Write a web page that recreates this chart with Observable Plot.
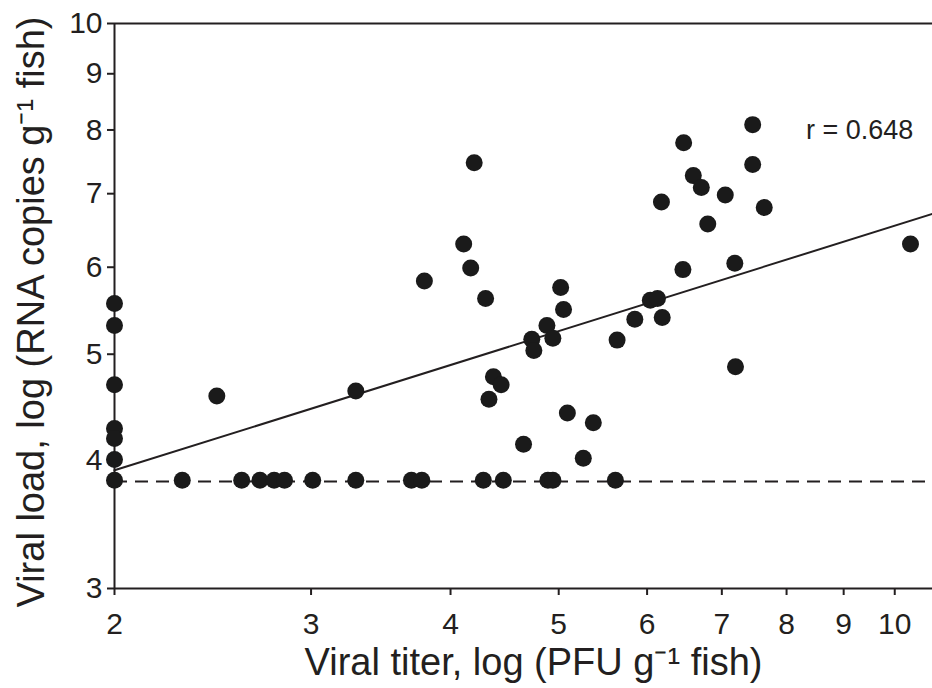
<!DOCTYPE html>
<html>
<head>
<meta charset="utf-8">
<script src="https://cdn.jsdelivr.net/npm/d3@7"></script>
<script src="https://cdn.jsdelivr.net/npm/@observablehq/plot@0.6"></script>
<style>
  html, body { margin: 0; padding: 0; background: #fff; }
</style>
</head>
<body>
<div id="chart"></div>
<script>
// Viral titer (x, PFU g^-1 fish, log) and viral load (y, RNA copies g^-1 fish, log)
const titer = [
  2, 2, 2, 2, 2, 2, 2,
  2.30, 2.60, 2.70, 2.78, 2.84, 3.01, 3.29, 3.69, 3.77, 4.28, 4.46, 4.89, 4.94, 5.62,
  2.47, 3.29, 3.79, 4.11, 4.20, 4.17, 4.30, 5.02, 5.05, 4.88,
  4.73, 4.94, 4.75, 4.37, 4.44, 4.33, 5.09, 5.37, 4.65, 5.26,
  5.64, 5.85, 6.04, 6.13, 6.19, 6.46, 6.18, 6.47, 6.60, 6.71,
  6.80, 7.05, 7.19, 7.20, 7.46, 7.46, 7.64, 10.33
];
const load = [
  5.56, 5.31, 4.69, 4.28, 4.19, 4.01, 3.84,
  3.84, 3.84, 3.84, 3.84, 3.84, 3.84, 3.84, 3.84, 3.84, 3.84, 3.84, 3.84, 3.84, 3.84,
  4.58, 4.63, 5.83, 6.30, 7.47, 5.99, 5.62, 5.75, 5.49, 5.31,
  5.16, 5.17, 5.04, 4.77, 4.69, 4.55, 4.42, 4.33, 4.14, 4.02,
  5.15, 5.38, 5.60, 5.62, 5.40, 5.97, 6.88, 7.79, 7.27, 7.09,
  6.57, 6.98, 6.05, 4.87, 8.09, 7.44, 6.80, 6.30
];
// Fitted regression line (log-log), read at its two ends
const fitTiter = [2, 10.81];
const fitLoad = [3.92, 6.71];
// Detection limit (dashed line)
const detectionLimit = [3.83];
// Axis ticks
const xTicks = [2, 3, 4, 5, 6, 7, 8, 9, 10];
const yTicks = [3, 4, 5, 6, 7, 8, 9, 10];
const xDomain = [2, 10.81];
const yDomain = [3.06, 10];
// Texts
const xTitle = "Viral titer, log (PFU g\u207B\u00B9 fish)";
const yTitle = "Viral load, log (RNA copies g\u207B\u00B9 fish)";
const rLabel = ["r = 0.648"];
const rX = [9.3];
const rY = [8.0];

const points = titer.map((t, i) => ({titer: t, load: load[i]}));
const fit = fitTiter.map((t, i) => ({titer: t, load: fitLoad[i]}));
const rText = rLabel.map((s, i) => ({text: s, titer: rX[i], load: rY[i]}));

const ink = "#231f20";

const chart = Plot.plot({
  width: 932,
  height: 688,
  marginLeft: 114,
  marginRight: 0,
  marginTop: 23,
  marginBottom: 100,
  x: {type: "log", domain: xDomain},
  y: {type: "log", domain: yDomain, clamp: true},
  style: {fontFamily: "'Liberation Sans', Arial, Helvetica, sans-serif", color: ink, background: "#fff", overflow: "visible"},
  marks: [
    Plot.ruleY([yTicks[yTicks.length - 1]], {stroke: ink, strokeWidth: 2}),
    Plot.ruleY([yTicks[0]], {stroke: ink, strokeWidth: 2}),
    Plot.ruleX([xTicks[0]], {stroke: ink, strokeWidth: 2}),
    Plot.axisY({ticks: yTicks, tickSize: 7, tickPadding: 5, fontSize: 30, label: null, tickFormat: d => String(d), stroke: ink, strokeWidth: 2, color: ink}),
    Plot.axisX({ticks: xTicks, tickSize: 7, tickPadding: 17, fontSize: 30, label: null, tickFormat: d => String(d), stroke: ink, strokeWidth: 2, color: ink}),
    Plot.ruleY(detectionLimit, {stroke: ink, strokeWidth: 2, strokeDasharray: "13,8"}),
    Plot.line(fit, {x: "titer", y: "load", stroke: ink, strokeWidth: 2}),
    Plot.dot(points, {x: "titer", y: "load", r: 8.5, fill: "#1a1a1a", stroke: "none"}),
    Plot.text(rText, {x: "titer", y: "load", text: "text", fontSize: 27, fill: ink, textAnchor: "middle"}),
    Plot.text([xTitle], {frameAnchor: "bottom", textAnchor: "middle", dy: 86, dx: 10, fontSize: 38, fill: ink, text: d => d}),
    Plot.text([yTitle], {frameAnchor: "left", textAnchor: "middle", rotate: -90, dx: -83, dy: 6, fontSize: 38, fill: ink, text: d => d})
  ]
});
document.getElementById("chart").appendChild(chart);
</script>
</body>
</html>
